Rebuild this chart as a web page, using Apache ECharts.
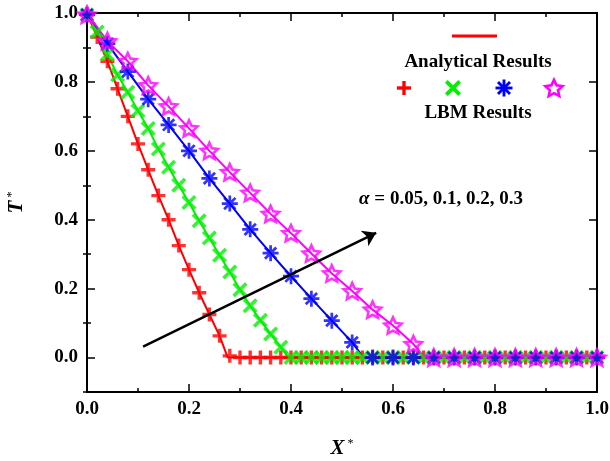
<!DOCTYPE html>
<html>
<head>
<meta charset="utf-8">
<script src="https://cdn.jsdelivr.net/npm/echarts@6/dist/echarts.min.js"></script>
<style>
  html, body { margin: 0; padding: 0; background: #fff; }
  #chart { width: 610px; height: 461px; }
</style>
</head>
<body>
<div id="chart"></div>
<script>
// ---- LBM samples (markers) ----
const xFine = [0.00,0.02,0.04,0.06,0.08,0.10,0.12,0.14,0.16,0.18,0.20,0.22,0.24,0.26,0.28,0.30,0.32,0.34,0.36,0.38,0.40,
  0.42,0.44,0.46,0.48,0.50,0.52,0.54,0.56,0.58,0.60,0.62,0.64,0.66,0.68,0.70,0.72,0.74,0.76,0.78,0.80,
  0.82,0.84,0.86,0.88,0.90,0.92,0.94,0.96,0.98,1.00];
const xCoarse = [0.00,0.04,0.08,0.12,0.16,0.20,0.24,0.28,0.32,0.36,0.40,0.44,0.48,0.52,0.56,0.60,0.64,0.68,0.72,0.76,0.80,
  0.84,0.88,0.92,0.96,1.00];

const lbmRed = [0.995,0.93,0.86,0.78,0.70,0.62,0.545,0.47,0.40,0.325,0.255,0.188,0.125,0.063,0.005,
  0,0,0,0,0,0,0,0,0,0,0,0,0,0,0,0,0,0,0,0,0,0,0,0,0,0,0,0,0,0,0,0,0,0,0,0];
const lbmGreen = [0.995,0.945,0.88,0.82,0.77,0.716,0.665,0.605,0.552,0.50,0.45,0.397,0.347,0.297,0.248,0.197,0.150,0.108,0.068,0.030,0,
  0,0,0,0,0,0,0,0,0,0,0,0,0,0,0,0,0,0,0,0,0,0,0,0,0,0,0,0,0,0];
const lbmBlue = [0.995,0.911,0.83,0.75,0.675,0.60,0.52,0.447,0.372,0.303,0.236,0.171,0.107,0.044,
  0,0,0,0,0,0,0,0,0,0,0,0];
const lbmMagenta = [0.995,0.918,0.86,0.79,0.729,0.665,0.60,0.538,0.478,0.417,0.361,0.302,0.244,0.193,0.139,0.093,0.039,
  0,0,0,0,0,0,0,0,0];

// ---- Analytical profiles (lines) ----
const anaRedX = [0,0.02,0.04,0.06,0.08,0.10,0.12,0.14,0.16,0.18,0.20,0.22,0.24,0.26,0.276,1.0];
const anaRedT = [1.0,0.93,0.86,0.78,0.70,0.62,0.545,0.47,0.40,0.325,0.255,0.188,0.125,0.063,0,0];
const anaGreenX = [0,0.02,0.04,0.06,0.08,0.10,0.12,0.14,0.16,0.18,0.20,0.22,0.24,0.26,0.28,0.30,0.32,0.34,0.36,0.38,0.395,1.0];
const anaGreenT = [1.0,0.945,0.88,0.82,0.77,0.716,0.665,0.605,0.552,0.50,0.45,0.397,0.347,0.297,0.248,0.197,0.150,0.108,0.068,0.030,0,0];
const anaBlueX = [0,0.04,0.08,0.12,0.16,0.20,0.24,0.28,0.32,0.36,0.40,0.44,0.48,0.52,0.542,1.0];
const anaBlueT = [1.0,0.911,0.83,0.75,0.675,0.60,0.52,0.447,0.372,0.303,0.236,0.171,0.107,0.044,0,0];
const anaMagentaX = [0,0.04,0.08,0.12,0.16,0.20,0.24,0.28,0.32,0.36,0.40,0.44,0.48,0.52,0.56,0.60,0.64,0.662,1.0];
const anaMagentaT = [1.0,0.918,0.86,0.79,0.729,0.665,0.60,0.538,0.478,0.417,0.361,0.302,0.244,0.193,0.139,0.093,0.039,0,0];

// ---- Axis ticks and annotation ----
const xTicks = [0.0,0.2,0.4,0.6,0.8,1.0];
const yTicks = [0.0,0.2,0.4,0.6,0.8,1.0];
const yMinorTicks = [-0.1,0.1,0.3,0.5,0.7,0.9];
const alphas = ['0.05','0.1','0.2','0.3'];
const arrowFrom = [0.11, 0.032];
const arrowTo = [0.567, 0.362];

const FONT = '"Liberation Serif", "Times New Roman", serif';
const RED = '#ff0000', GREEN = '#00f000', BLUE = '#0000ff', MAGENTA = '#ff00ff';

// Glyph outlines in a 100x100 box: bars crossing at the centre, and a 5-point star
function barPolys(angles, thick) {
  return angles.map(a => {
    const r = a * Math.PI / 180;
    const dx = Math.cos(r) * 50, dy = Math.sin(r) * 50;
    const nx = -Math.sin(r) * thick / 2, ny = Math.cos(r) * thick / 2;
    return [[50 + dx + nx, 50 + dy + ny], [50 + dx - nx, 50 + dy - ny],
            [50 - dx - nx, 50 - dy - ny], [50 - dx + nx, 50 - dy + ny]];
  });
}
function starPolys(outer, inner) {
  const pts = [];
  for (let i = 0; i < 10; i++) {
    const r = (i % 2 === 0) ? outer : inner;
    const a = -Math.PI / 2 + i * Math.PI / 5;
    pts.push([50 + r * Math.cos(a), 50 + r * Math.sin(a)]);
  }
  return [pts];
}
const toPath = polys => polys.map(p => 'M' + p.map(q => q[0].toFixed(2) + ',' + q[1].toFixed(2)).join('L') + 'Z').join('');

const PLUS = barPolys([0, 90], 24);
const CROSS = barPolys([45, 135], 20);
const ASTER = barPolys([0, 45, 90, 135], 17);
const STAR = starPolys(50, 24);

const zip = (xs, ys) => xs.map((x, i) => [x, ys[i]]);

function lineSeries(name, xs, ys, color, extra) {
  return Object.assign({
    name, type: 'line', data: zip(xs, ys), showSymbol: false, symbol: 'none',
    lineStyle: { color, width: 2 }, itemStyle: { color }, silent: true, z: 2
  }, extra || {});
}
function markerSeries(name, xs, ys, polys, size, style) {
  return {
    name, type: 'scatter', data: zip(xs, ys), symbol: 'path://' + toPath(polys),
    symbolSize: size, symbolKeepAspect: true, itemStyle: style, silent: true, z: 3
  };
}
// Legend glyph as graphic polygons centred at (cx, cy), spanning `size` px
function legendGlyph(polys, cx, cy, size, style) {
  let minX = Infinity, maxX = -Infinity, minY = Infinity, maxY = -Infinity;
  polys.forEach(p => p.forEach(q => {
    minX = Math.min(minX, q[0]); maxX = Math.max(maxX, q[0]);
    minY = Math.min(minY, q[1]); maxY = Math.max(maxY, q[1]);
  }));
  const s = size / Math.max(maxX - minX, maxY - minY);
  const mx = (minX + maxX) / 2, my = (minY + maxY) / 2;
  return polys.map(p => ({
    type: 'polygon',
    shape: { points: p.map(q => [cx + (q[0] - mx) * s, cy + (q[1] - my) * s]) },
    style
  }));
}

const tickLabel = { fontFamily: FONT, fontWeight: 'bold', fontSize: 19, color: '#000' };
const axisLine = { show: true, onZero: false, lineStyle: { color: '#000', width: 2 } };
const nameRich = {
  i: { fontFamily: FONT, fontStyle: 'italic', fontWeight: 'bold', fontSize: 21, color: '#000' },
  s: { fontFamily: FONT, fontSize: 12, color: '#000', verticalAlign: 'top', padding: [0, 0, 0, 3] }
};

const chart = echarts.init(document.getElementById('chart'), null, { renderer: 'canvas' });
chart.setOption({
  animation: false,
  backgroundColor: '#fff',
  grid: { left: 87, right: 13, top: 13, bottom: 69, outerBoundsMode: 'none', containLabel: false },
  xAxis: [
    {
      type: 'value', min: 0, max: 1, interval: 0.2, position: 'bottom',
      axisLine,
      axisTick: { show: true, inside: true, length: 8, lineStyle: { color: '#000', width: 1.5 } },
      minorTick: { show: true, splitNumber: 2, length: 4, lineStyle: { color: '#000', width: 1.5 } },
      axisLabel: Object.assign({ margin: 8, customValues: xTicks, formatter: v => v.toFixed(1) }, tickLabel),
      splitLine: { show: false },
      name: '{i|X}{s|*}', nameLocation: 'middle', nameGap: 46,
      nameTextStyle: { rich: nameRich }
    },
    {
      type: 'value', min: 0, max: 1, interval: 0.2, position: 'top',
      axisLine,
      axisTick: { show: true, inside: true, length: 8, lineStyle: { color: '#000', width: 1.5 } },
      minorTick: { show: true, splitNumber: 2, length: 4, lineStyle: { color: '#000', width: 1.5 } },
      axisLabel: { show: false }, splitLine: { show: false }
    }
  ],
  yAxis: [
    {
      type: 'value', min: -0.1, max: 1.0, position: 'left',
      axisLine,
      axisTick: { show: true, inside: true, length: 8, customValues: yTicks, lineStyle: { color: '#000', width: 1.5 } },
      axisLabel: Object.assign({ margin: 9, customValues: yTicks, formatter: v => v.toFixed(1) }, tickLabel),
      splitLine: { show: false },
      name: '{i|T}{s|*}', nameLocation: 'middle', nameRotate: 90, nameGap: 60,
      nameTextStyle: { rich: nameRich }
    },
    {
      type: 'value', min: -0.1, max: 1.0, position: 'left',
      axisLine: { show: false },
      axisTick: { show: true, inside: true, length: 4, customValues: yMinorTicks, lineStyle: { color: '#000', width: 1.5 } },
      axisLabel: { show: false }, splitLine: { show: false }
    },
    {
      type: 'value', min: -0.1, max: 1.0, position: 'right',
      axisLine,
      axisTick: { show: true, inside: true, length: 8, customValues: yTicks, lineStyle: { color: '#000', width: 1.5 } },
      axisLabel: { show: false }, splitLine: { show: false }
    },
    {
      type: 'value', min: -0.1, max: 1.0, position: 'right',
      axisLine: { show: false },
      axisTick: { show: true, inside: true, length: 4, customValues: yMinorTicks, lineStyle: { color: '#000', width: 1.5 } },
      axisLabel: { show: false }, splitLine: { show: false }
    }
  ],
  series: [
    lineSeries('Analytical α=0.05', anaRedX, anaRedT, RED, {
      markLine: {
        silent: true, animation: false,
        symbol: ['none', 'arrow'], symbolSize: 13,
        lineStyle: { color: '#000', width: 2.5, type: 'solid' },
        label: { show: false },
        emphasis: { disabled: true },
        data: [[{ coord: arrowFrom }, { coord: arrowTo }]]
      }
    }),
    lineSeries('Analytical α=0.1', anaGreenX, anaGreenT, GREEN),
    lineSeries('Analytical α=0.2', anaBlueX, anaBlueT, BLUE),
    lineSeries('Analytical α=0.3', anaMagentaX, anaMagentaT, MAGENTA),
    markerSeries('LBM α=0.05', xFine, lbmRed, PLUS, 14, { color: RED }),
    markerSeries('LBM α=0.1', xFine, lbmGreen, CROSS, 15, { color: GREEN }),
    markerSeries('LBM α=0.2', xCoarse, lbmBlue, ASTER, 16, { color: BLUE }),
    markerSeries('LBM α=0.3', xCoarse, lbmMagenta, STAR, 17,
      { color: 'rgba(255,255,255,0)', borderColor: MAGENTA, borderWidth: 2.6 })
  ],
  graphic: [
    { type: 'line', shape: { x1: 452, y1: 36, x2: 497, y2: 36 }, style: { stroke: RED, lineWidth: 3 } },
    { type: 'text', x: 478, y: 62, style: { text: 'Analytical Results', fontFamily: FONT, fontWeight: 'bold', fontSize: 19, fill: '#000', align: 'center', verticalAlign: 'middle' } }
  ].concat(
    legendGlyph(PLUS, 404, 88, 14, { fill: RED }),
    legendGlyph(CROSS, 453, 88, 16, { fill: GREEN }),
    legendGlyph(ASTER, 504, 88, 17, { fill: BLUE }),
    legendGlyph(STAR, 554, 88, 17, { fill: 'none', stroke: MAGENTA, lineWidth: 2.6 }),
    [
      { type: 'text', x: 478, y: 113, style: { text: 'LBM Results', fontFamily: FONT, fontWeight: 'bold', fontSize: 19, fill: '#000', align: 'center', verticalAlign: 'middle' } },
      { type: 'text', x: 441, y: 199, style: {
          text: '{a|α} = ' + alphas.join(', '),
          fontFamily: FONT, fontWeight: 'bold', fontSize: 19, fill: '#000', align: 'center', verticalAlign: 'middle',
          rich: { a: { fontFamily: FONT, fontStyle: 'italic', fontWeight: 'bold', fontSize: 19, fill: '#000' } }
        } }
    ]
  )
});
</script>
</body>
</html>
